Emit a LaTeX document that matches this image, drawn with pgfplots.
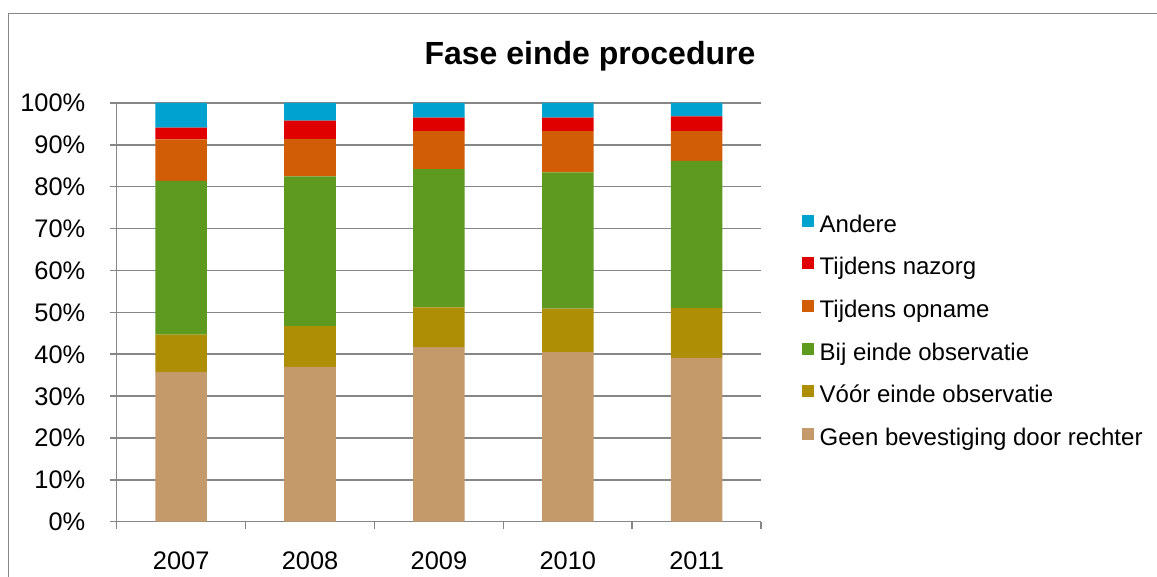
\documentclass[border=0pt]{standalone}
\usepackage{pgfplots}
\pgfplotsset{compat=1.18}
\usepackage{pgfplotstable}
\usepackage{fontspec}
\setmainfont{Liberation Sans}
\definecolor{cAnd}{RGB}{0,162,208}
\definecolor{cNaz}{RGB}{225,0,0}
\definecolor{cOpn}{RGB}{209,94,7}
\definecolor{cBij}{RGB}{94,154,32}
\definecolor{cVoor}{RGB}{173,142,5}
\definecolor{cGeen}{RGB}{196,154,106}
\definecolor{gridgray}{RGB}{134,134,134}
\pgfplotsset{sqleg/.style={legend image code/.code={\fill[##1] (0pt,-0.5pt) rectangle (6pt,5.5pt);}}}
\pgfplotstableread{
x geen voor bij opn naz and
0 35.7 9.0 36.7 9.9 2.8 5.9
1 37.0 9.7 35.8 8.9 4.4 4.2
2 41.7 9.5 33.0 9.1 3.2 3.5
3 40.5 10.4 32.5 9.9 3.2 3.5
4 39.1 11.9 35.2 7.1 3.5 3.2
}\data
\begin{document}
\begin{tikzpicture}
\useasboundingbox (-58.35pt,-27.65pt) rectangle (520.15pt,260.85pt);
\draw[color=gridgray, line width=0.75pt] (-54.2pt,-27.65pt) -- (-54.2pt,254.2pt) -- (520.15pt,254.2pt);
\node[anchor=base, inner sep=0pt, font=\bfseries\fontsize{16}{19}\selectfont] at (236.65pt,228.7pt) {Fase einde procedure};
\begin{axis}[
  at={(0pt,0pt)}, anchor=south west,
  scale only axis, width=322.2pt, height=209.35pt,
  ybar stacked, bar width=0.4,
  xmin=-0.5, xmax=4.5, ymin=0, ymax=100,
  xtick={0,1,2,3,4}, xticklabels={2007,2008,2009,2010,2011},
  minor xtick={-0.5,0.5,1.5,2.5,3.5,4.5},
  ytick={0,10,...,100},
  yticklabels={0\%,10\%,20\%,30\%,40\%,50\%,60\%,70\%,80\%,90\%,100\%},
  tick align=outside, major tick length=3.5pt, minor tick length=3.5pt,
  major x tick style={draw=none},
  tick style={color=gridgray, line width=0.75pt},
  ymajorgrids, major grid style={color=gridgray, line width=0.75pt},
  axis x line*=bottom, axis y line*=left,
  axis line style={color=gridgray, line width=0.75pt, -},
  ticklabel style={font=\fontsize{12.7}{15}\selectfont},
  xticklabel style={anchor=base, inner sep=0pt, yshift=-20.5pt},
  yticklabel style={anchor=base east, inner sep=0pt, xshift=-12pt, yshift=-4.5pt},
  reverse legend, legend cell align=left,
  legend style={at={(1.063,0.734)}, anchor=north west, draw=none, fill=none,
    inner sep=0pt, outer sep=0pt, row sep=9.8pt, column sep=3pt,
    font=\fontsize{12}{14}\selectfont,
    nodes={inner sep=0pt, text height=9pt, text depth=2.5pt}},
]
\addplot[fill=cGeen, draw=none, sqleg] table[x=x, y=geen]{\data};
\addlegendentry{Geen bevestiging door rechter}
\addplot[fill=cVoor, draw=none, sqleg] table[x=x, y=voor]{\data};
\addlegendentry{Vóór einde observatie}
\addplot[fill=cBij, draw=none, sqleg] table[x=x, y=bij]{\data};
\addlegendentry{Bij einde observatie}
\addplot[fill=cOpn, draw=none, sqleg] table[x=x, y=opn]{\data};
\addlegendentry{Tijdens opname}
\addplot[fill=cNaz, draw=none, sqleg] table[x=x, y=naz]{\data};
\addlegendentry{Tijdens nazorg}
\addplot[fill=cAnd, draw=none, sqleg] table[x=x, y=and]{\data};
\addlegendentry{Andere}
\end{axis}
\end{tikzpicture}
\end{document}
